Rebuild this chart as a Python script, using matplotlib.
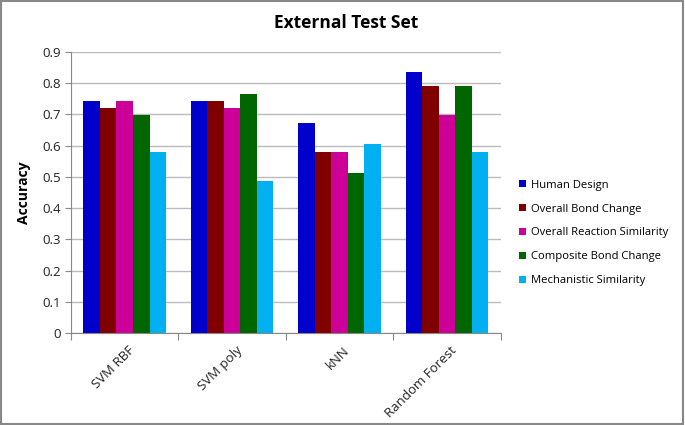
import numpy as np
import matplotlib
matplotlib.use("Agg")
import matplotlib.pyplot as plt
from matplotlib.patches import Rectangle

plt.rcParams['font.family'] = ['Open Sans', 'DejaVu Sans']

# Данні з графіка
classifiers = ["SVM RBF", "SVM poly", "kNN", "Random Forest"]
series_names = ["Human Design", "Overall Bond Change", "Overall Reaction Similarity",
                "Composite Bond Change", "Mechanistic Similarity"]
human_design = [0.744, 0.744, 0.674, 0.837]
overall_bond = [0.721, 0.744, 0.581, 0.791]
overall_reaction = [0.744, 0.721, 0.581, 0.698]
composite_bond = [0.698, 0.767, 0.512, 0.791]
mechanistic = [0.581, 0.488, 0.605, 0.581]

colors = ["#0000CC", "#800000", "#CC0099", "#006600", "#00B0F0"]

fig = plt.figure(figsize=(6.85, 4.25), dpi=100)
ax = fig.add_axes([0.1036, 0.2165, 0.6274, 0.6611])

all_series = [human_design, overall_bond, overall_reaction, composite_bond, mechanistic]
x = np.arange(len(classifiers))
width = 0.154
for i, (vals, name, c) in enumerate(zip(all_series, series_names, colors)):
    ax.bar(x + (i - 2) * width, vals, width, color=c, label=name, zorder=3)

ax.set_xlim(-0.5, len(classifiers) - 0.5)
ax.set_ylim(0, 0.9)
ax.set_yticks(np.arange(0, 0.91, 0.1))
ax.set_yticklabels(["0"] + [f"{v:.1f}" for v in np.arange(0.1, 0.91, 0.1)], fontsize=9.5, color="#222222")
ax.yaxis.grid(True, color="#BBBBBB", linewidth=1, zorder=0)

# тики між групами, підписи по центру
ax.set_xticks(np.arange(-0.5, len(classifiers), 1.0))
ax.set_xticklabels([])
ax.set_xticks(x + 0.03, minor=True)
ax.set_xticklabels(classifiers, minor=True, rotation=45, ha="right", rotation_mode="anchor",
                   fontsize=9.5, color="#222222")
ax.tick_params(axis="x", which="minor", length=0, pad=8)
ax.tick_params(axis="x", which="major", length=5, color="#888888", direction="out")
ax.tick_params(axis="y", length=4, color="#888888", direction="out")

for s in ["top", "right"]:
    ax.spines[s].set_visible(False)
for s in ["left", "bottom"]:
    ax.spines[s].set_color("#888888")

ax.set_ylabel("Accuracy", fontsize=10, fontweight="bold", labelpad=8)
fig.text(0.505, 0.945, "External Test Set", ha="center", va="center", fontsize=12.5, fontweight="bold")

ax.legend(loc="center left", bbox_to_anchor=(1.02, 0.356), frameon=False, fontsize=8.1,
          handlelength=0.6, handleheight=0.6, handletextpad=0.45, labelspacing=1.15)

# рамка навколо фігури
fig.patches.append(Rectangle((0.002, 0.003), 0.995, 0.994, transform=fig.transFigure,
                             fill=False, edgecolor="#888888", linewidth=1.5))

fig.savefig("out.png", dpi=100)
